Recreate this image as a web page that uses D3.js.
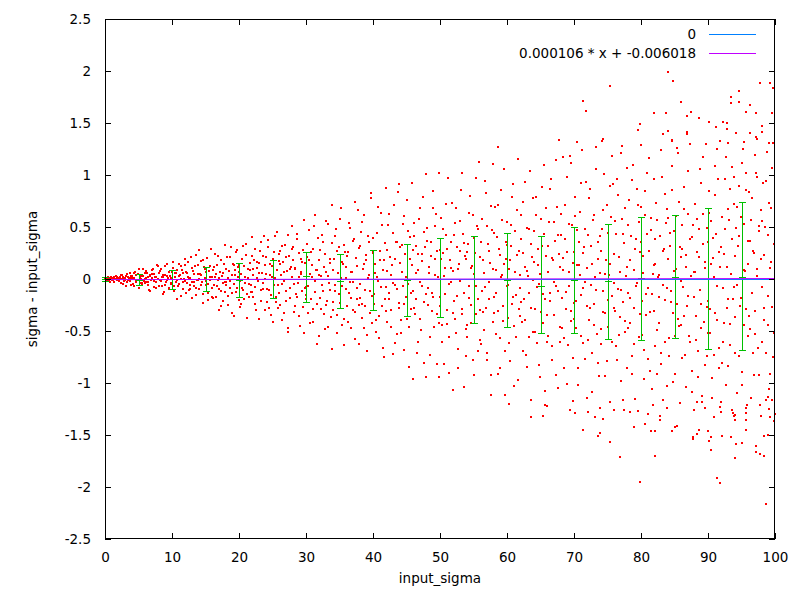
<!DOCTYPE html>
<html>
<head>
<meta charset="utf-8">
<script src="https://cdn.jsdelivr.net/npm/d3@7"></script>
<style>
body { margin: 0; background: #fff; }
text { font-family: "DejaVu Sans", sans-serif; font-size: 13.5px; fill: #000; }
</style>
</head>
<body>
<svg id="chart" width="800" height="600"></svg>
<script>
// axis ticks
const xTicks = [0, 10, 20, 30, 40, 50, 60, 70, 80, 90, 100];
const yTicks = [-2.5, -2, -1.5, -1, -0.5, 0, 0.5, 1, 1.5, 2, 2.5];

// binned mean +- sigma (green error bars)
const barX    = [0, 5, 10, 15, 20, 25, 30, 35, 40, 45, 50, 55, 60, 65, 70, 75, 80, 85, 90, 95];
const barMean = [0, -0.006, -0.004, -0.003, -0.012, -0.003, 0.026, -0.022, -0.003, -0.013, 0.003, -0.003, -0.013, -0.064, -0.01, -0.022, 0.006, 0.022, 0.003, 0.022];
const barHigh = [0.016, 0.045, 0.084, 0.112, 0.151, 0.18, 0.262, 0.237, 0.282, 0.333, 0.391, 0.41, 0.439, 0.41, 0.497, 0.526, 0.593, 0.612, 0.68, 0.737];
const barLow  = [-0.022, -0.058, -0.093, -0.118, -0.176, -0.186, -0.217, -0.282, -0.301, -0.359, -0.368, -0.426, -0.464, -0.522, -0.522, -0.58, -0.59, -0.564, -0.676, -0.686];

// legend lines
const legendNames = ["0", "0.000106 * x + -0.006018"];
const fitSlope = 0.000106;
const fitIntercept = -0.006018;

// scatter cloud (too dense to read point by point)
const cloudX = [
 0.1,0.2,0.3,0.5,0.6,0.7,0.9,1.0,1.2,1.3,1.5,1.6,1.8,1.9,
 2.1,2.2,2.4,2.5,2.6,2.8,2.9,3.1,3.2,3.4,3.5,3.7,3.8,3.9,
 4.0,4.2,4.3,4.4,4.6,4.7,4.9,5.0,5.2,5.3,5.5,5.6,5.8,5.9,
 6.0,6.1,6.3,6.4,6.5,6.7,6.8,7.0,7.1,7.3,7.4,7.6,7.7,7.9,
 8.0,8.2,8.3,8.5,8.6,8.7,8.9,9.0,9.2,9.3,9.5,9.6,9.8,9.9,
 10.0,10.1,10.3,10.4,10.6,10.7,10.8,11.0,11.1,11.3,11.4,11.6,11.7,11.9,
 12.0,12.2,12.3,12.5,12.6,12.7,12.9,13.0,13.2,13.3,13.5,13.6,13.8,13.9,
 14.0,14.1,14.3,14.4,14.6,14.7,14.9,15.0,15.1,15.3,15.4,15.6,15.7,15.9,
 16.0,16.2,16.3,16.5,16.6,16.8,16.9,17.0,17.2,17.3,17.5,17.6,17.8,17.9,
 18.0,18.1,18.3,18.4,18.6,18.7,18.9,19.0,19.2,19.3,19.4,19.6,19.7,19.9,
 20.0,20.2,20.3,20.5,20.6,20.7,20.9,21.0,21.2,21.3,21.5,21.6,21.8,21.9,
 22.0,22.1,22.3,22.4,22.6,22.7,22.9,23.0,23.1,23.3,23.4,23.6,23.7,23.9,
 24.1,24.2,24.4,24.5,24.7,24.8,24.9,25.1,25.2,25.4,25.5,25.6,25.8,25.9,
 26.0,26.1,26.3,26.4,26.6,26.7,26.8,27.0,27.1,27.3,27.4,27.6,27.7,27.9,
 28.0,28.2,28.3,28.4,28.6,28.7,28.9,29.0,29.2,29.3,29.4,29.6,29.7,29.9,
 30.0,30.1,30.3,30.4,30.6,30.7,30.9,31.0,31.1,31.3,31.4,31.6,31.7,31.9,
 32.0,32.2,32.3,32.5,32.6,32.8,32.9,33.0,33.2,33.3,33.5,33.6,33.8,33.9,
 34.0,34.1,34.3,34.4,34.6,34.7,34.9,35.0,35.2,35.3,35.4,35.6,35.7,35.9,
 36.0,36.2,36.3,36.5,36.6,36.7,36.9,37.0,37.2,37.3,37.5,37.6,37.7,37.9,
 38.0,38.1,38.3,38.4,38.6,38.7,38.8,39.0,39.1,39.3,39.4,39.6,39.7,39.9,
 40.0,40.2,40.3,40.5,40.6,40.8,40.9,41.0,41.2,41.3,41.5,41.6,41.8,41.9,
 42.0,42.1,42.3,42.4,42.6,42.7,42.9,43.0,43.1,43.3,43.4,43.6,43.7,43.9,
 44.0,44.2,44.3,44.5,44.6,44.7,44.9,45.0,45.2,45.3,45.5,45.6,45.8,45.9,
 46.0,46.1,46.3,46.4,46.6,46.7,46.9,47.0,47.2,47.3,47.4,47.6,47.7,47.9,
 48.0,48.2,48.3,48.5,48.6,48.8,48.9,49.0,49.2,49.3,49.5,49.6,49.8,49.9,
 50.0,50.1,50.3,50.4,50.6,50.7,50.9,51.0,51.1,51.3,51.4,51.6,51.7,51.9,
 52.0,52.2,52.3,52.5,52.6,52.7,52.9,53.0,53.2,53.3,53.5,53.6,53.8,53.9,
 54.0,54.1,54.3,54.4,54.6,54.7,54.9,55.0,55.1,55.3,55.4,55.6,55.7,55.9,
 56.0,56.2,56.3,56.5,56.6,56.8,56.9,57.0,57.2,57.3,57.5,57.6,57.8,57.9,
 58.0,58.1,58.3,58.4,58.6,58.7,58.9,59.0,59.1,59.3,59.4,59.6,59.7,59.9,
 60.0,60.2,60.3,60.5,60.6,60.7,60.9,61.0,61.2,61.3,61.5,61.6,61.8,61.9,
 62.0,62.1,62.3,62.4,62.6,62.7,62.9,63.0,63.1,63.3,63.4,63.6,63.7,63.9,
 64.0,64.2,64.3,64.5,64.6,64.8,64.9,65.0,65.2,65.3,65.5,65.6,65.8,65.9,
 66.0,66.1,66.3,66.4,66.6,66.7,66.9,67.0,67.1,67.3,67.4,67.6,67.7,67.9,
 68.0,68.2,68.3,68.5,68.6,68.8,68.9,69.0,69.2,69.3,69.5,69.6,69.8,69.9,
 70.0,70.1,70.3,70.4,70.6,70.7,70.9,71.0,71.1,71.3,71.4,71.6,71.7,71.9,
 72.0,72.2,72.3,72.5,72.6,72.7,72.9,73.0,73.2,73.3,73.5,73.6,73.8,73.9,
 74.0,74.1,74.3,74.4,74.6,74.7,74.9,75.0,75.1,75.3,75.4,75.6,75.7,75.9,
 76.0,76.2,76.3,76.5,76.6,76.8,76.9,77.0,77.2,77.3,77.5,77.6,77.8,77.9,
 78.0,78.1,78.3,78.4,78.6,78.7,78.9,79.0,79.1,79.3,79.4,79.6,79.7,79.9,
 80.0,80.2,80.3,80.5,80.6,80.7,80.9,81.0,81.2,81.3,81.5,81.6,81.8,81.9,
 82.0,82.1,82.3,82.4,82.6,82.7,82.9,83.0,83.1,83.3,83.4,83.6,83.7,83.9,
 84.0,84.2,84.3,84.5,84.6,84.8,84.9,85.0,85.2,85.3,85.5,85.6,85.8,85.9,
 86.0,86.1,86.3,86.4,86.6,86.7,86.9,87.0,87.1,87.3,87.4,87.6,87.7,87.9,
 88.0,88.2,88.3,88.5,88.6,88.8,88.9,89.0,89.2,89.3,89.5,89.6,89.8,89.9,
 90.0,90.1,90.3,90.4,90.6,90.7,90.9,91.0,91.1,91.3,91.4,91.6,91.7,91.9,
 92.0,92.2,92.3,92.5,92.6,92.8,92.9,93.0,93.2,93.3,93.5,93.6,93.8,93.9,
 94.0,94.1,94.3,94.4,94.6,94.7,94.9,95.0,95.1,95.3,95.4,95.6,95.7,95.9,
 96.0,96.2,96.3,96.5,96.6,96.8,96.9,97.0,97.2,97.3,97.5,97.6,97.8,97.9,
 98.0,98.1,98.3,98.4,98.6,98.7,98.9,99.0,99.1,99.3,99.4,99.6,99.7,99.9
];
const cloudY = [
 0.002,-0.007,0.013,-0.020,0.005,-0.001,0.024,-0.011,0.008,-0.029,0.003,-0.004,0.016,-0.014,
 -0.005,0.020,-0.034,0.001,0.042,-0.017,0.009,-0.066,0.028,-0.010,0.018,-0.024,0.056,0.005,
 0.019,-0.004,-0.067,0.054,-0.028,0.035,-0.011,0.092,-0.040,0.004,-0.047,0.025,-0.017,0.060,
 -0.043,0.011,0.061,-0.025,-0.101,0.035,-0.008,0.050,0.092,-0.073,0.019,-0.031,0.139,-0.001,
 -0.072,0.081,-0.021,0.017,-0.146,0.038,-0.056,0.122,-0.005,0.026,-0.098,0.066,-0.034,0.009,
 0.013,0.166,-0.072,0.054,-0.029,0.083,-0.197,0.026,-0.049,0.125,0.004,-0.100,0.060,-0.016,
 0.138,-0.040,0.057,-0.109,0.008,-0.092,0.213,-0.025,0.080,-0.064,0.124,-0.154,-0.009,0.044,
 -0.002,0.276,-0.062,0.037,-0.144,0.183,0.100,-0.015,0.069,-0.201,-0.049,0.121,0.023,-0.084,
 0.016,-0.060,0.118,-0.176,0.047,-0.009,0.217,-0.099,0.068,-0.261,0.031,-0.038,0.145,-0.129,
 -0.027,0.100,-0.167,0.006,0.210,-0.082,0.043,-0.329,0.139,-0.049,0.091,-0.121,0.279,0.022,
 0.068,-0.015,-0.241,0.194,-0.101,0.126,-0.039,0.334,-0.143,0.013,-0.171,0.090,-0.062,0.217,
 -0.126,0.034,0.182,-0.073,-0.301,0.103,-0.023,0.150,0.274,-0.215,0.055,-0.093,0.413,-0.004,
 0.05,-0.22,0.31,-0.11,0.14,-0.35,0.02,0.19,-0.06,0.41,-0.17,0.09,-0.28,0.24,
 -0.13,0.27,0.04,-0.39,0.16,-0.02,0.33,-0.21,0.08,-0.47,0.22,-0.09,0.12,0.51,
 0.31,-0.05,-0.26,0.11,0.43,-0.17,0.02,-0.36,0.19,0.07,-0.12,0.28,-0.52,0.15,
 -0.08,0.21,-0.33,0.47,0.05,-0.19,0.13,-0.41,0.29,-0.02,0.62,-0.24,0.09,-0.55,
 0.18,-0.29,0.03,0.36,-0.12,-0.48,0.24,0.07,-0.21,0.53,-0.04,0.15,-0.37,0.71,
 -0.22,0.09,0.41,-0.06,-0.35,0.27,-0.14,0.58,0.01,-0.44,0.16,-0.63,0.33,-0.1,
 0.12,-0.41,0.26,-0.03,0.49,-0.18,0.07,-0.3,0.38,-0.58,0.2,-0.09,0.66,-0.25,
 -0.05,0.32,-0.24,0.55,-0.47,0.14,-0.11,0.23,-0.69,0.41,0.04,-0.33,0.78,-0.16,
 0.27,-0.14,0.06,-0.39,0.44,-0.02,-0.57,0.18,0.63,-0.26,0.09,-0.75,0.35,-0.08,
 -0.31,0.08,0.52,-0.19,0.21,-0.46,0.13,-0.04,0.71,-0.62,0.36,-0.1,0.84,-0.28,
 0.15,-0.52,0.33,-0.07,0.61,-0.24,0.02,-0.38,0.46,-0.85,0.19,-0.13,0.92,0.28,
 -0.12,0.41,-0.34,0.06,-0.71,0.24,0.58,-0.03,-0.49,0.17,0.79,-0.22,0.31,-0.94,
 0.37,-0.09,0.12,-0.56,0.22,-0.31,0.68,-0.17,0.04,0.51,-0.82,0.27,-0.42,1.02,
 -0.26,0.19,-0.61,0.48,0.03,-0.14,0.72,-0.43,0.29,-0.05,-0.9,0.36,0.11,-0.33,
 0.08,-0.38,0.54,-0.16,0.31,-0.67,0.14,-0.02,0.86,-0.29,0.43,-1.04,0.22,-0.48,
 -0.44,0.26,-0.07,0.63,-0.25,0.11,-0.78,0.39,0.05,-0.34,0.97,-0.19,0.48,-0.59,
 0.21,-0.12,0.58,-0.49,0.06,-0.28,0.83,-0.71,0.34,-0.03,0.15,-0.92,0.47,1.11,
 -0.17,0.44,-0.53,0.09,0.71,-0.31,0.23,-0.86,0.02,0.57,-0.4,0.14,-1.12,0.36,
 0.33,-0.06,-0.62,0.18,0.52,-0.24,0.91,-0.45,0.07,-0.15,0.66,-0.97,0.27,-0.36,
 -0.09,0.38,-0.41,0.74,-0.19,0.12,-0.73,0.49,0.03,-0.56,1.04,-0.28,0.21,-0.01,
 0.16,-0.51,0.62,-0.08,0.29,-0.83,0.05,-0.32,0.88,-0.14,0.43,-1.08,0.22,-0.61,
 -0.35,0.07,0.55,-0.21,0.96,-0.64,0.18,-0.03,0.37,-0.92,0.69,-0.12,0.24,-0.46,
 0.42,-0.18,0.09,-0.57,0.71,-0.29,0.26,-1.01,0.53,-0.07,-0.4,1.12,-0.76,0.15,
 -0.23,0.61,-0.47,0.13,-0.86,0.36,0.04,-0.15,0.92,-0.62,0.25,-0.03,0.48,-1.14,
 0.11,-0.39,0.78,-0.06,0.32,-0.71,0.57,-0.24,0.02,1.06,-0.53,0.19,-0.93,0.41,
 -0.48,0.27,-0.12,0.66,-0.33,0.05,-0.79,0.44,-0.2,0.89,0.14,-0.61,1.18,-0.04,
 0.24,-0.64,0.43,-0.1,0.81,-0.37,0.07,-0.98,0.58,-0.22,0.35,-0.51,0.03,1.07,
 -0.13,0.52,-0.42,0.18,-0.74,0.95,-0.28,0.09,-1.15,0.38,-0.04,0.71,-0.56,0.26,
 0.36,-0.21,0.06,-0.68,0.62,-0.35,1.02,-0.09,0.27,-0.88,0.47,-0.14,-1.21,0.13,
 -0.31,0.14,0.73,-0.49,0.02,-0.17,0.41,-0.82,0.98,-0.06,0.29,-0.61,0.54,-1.03,
 0.19,-0.57,0.44,-0.12,0.86,-0.33,0.08,-0.91,0.61,-0.24,1.21,-0.45,0.31,-0.02,
 -0.44,0.29,-0.08,0.67,-0.73,0.12,-0.26,1.04,-0.55,0.38,0.03,-1.09,0.52,-0.17,
 0.07,-0.36,0.58,-0.69,0.21,-0.11,0.92,-0.47,0.34,1.17,-0.83,0.16,-0.27,0.49,
 -0.21,0.63,-0.52,0.14,-0.95,0.39,0.02,-0.33,0.81,-0.07,1.25,-0.66,0.26,-1.18,
 0.31,-0.09,-0.61,0.48,0.96,-0.28,0.12,-0.84,0.57,-0.43,0.05,1.08,-0.19,0.72,
 -0.37,0.22,-0.06,0.69,-0.74,0.41,-0.18,1.12,-1.02,0.09,0.53,-0.29,0.86,-0.55,
 0.14,-0.48,0.37,-0.13,0.78,-0.92,0.25,-0.31,1.02,0.03,-0.66,0.51,-1.21,0.19,
 -0.08,0.56,-0.39,0.23,-0.71,0.94,-0.16,0.42,-1.06,0.11,0.68,-0.27,1.31,-0.52
];

// second pass over the cloud, filling the wider part of the envelope
const cloud2X = [
 0.05,0.15,0.35,0.45,0.65,0.75,0.95,1.05,1.25,1.35,1.55,1.65,1.85,1.95,
 2.05,2.15,2.35,2.45,2.65,2.75,2.95,3.05,3.25,3.35,3.55,3.65,3.85,3.95,
 4.05,4.15,4.35,4.45,4.65,4.75,4.95,5.05,5.25,5.35,5.55,5.65,5.85,5.95,
 6.05,6.15,6.35,6.45,6.65,6.75,6.95,7.05,7.25,7.35,7.55,7.65,7.85,7.95,
 8.05,8.15,8.35,8.45,8.65,8.75,8.95,9.05,9.25,9.35,9.55,9.65,9.85,9.95,
 10.05,10.15,10.35,10.45,10.65,10.75,10.95,11.05,11.25,11.35,11.55,11.65,11.85,11.95,
 12.05,12.15,12.35,12.45,12.65,12.75,12.95,13.05,13.25,13.35,13.55,13.65,13.85,13.95,
 14.05,14.15,14.35,14.45,14.65,14.75,14.95,15.05,15.25,15.35,15.55,15.65,15.85,15.95,
 16.05,16.15,16.35,16.45,16.65,16.75,16.95,17.05,17.25,17.35,17.55,17.65,17.85,17.95,
 18.05,18.15,18.35,18.45,18.65,18.75,18.95,19.05,19.25,19.35,19.55,19.65,19.85,19.95,
 20.05,20.15,20.35,20.45,20.65,20.75,20.95,21.05,21.25,21.35,21.55,21.65,21.85,21.95,
 22.05,22.15,22.35,22.45,22.65,22.75,22.95,23.05,23.25,23.35,23.55,23.65,23.85,23.95,
 24.05,24.15,24.35,24.45,24.65,24.75,24.95,25.05,25.25,25.35,25.55,25.65,25.85,25.95,
 26.05,26.15,26.35,26.45,26.65,26.75,26.95,27.05,27.25,27.35,27.55,27.65,27.85,27.95,
 28.05,28.15,28.35,28.45,28.65,28.75,28.95,29.05,29.25,29.35,29.55,29.65,29.85,29.95,
 30.05,30.15,30.35,30.45,30.65,30.75,30.95,31.05,31.25,31.35,31.55,31.65,31.85,31.95,
 32.05,32.15,32.35,32.45,32.65,32.75,32.95,33.05,33.25,33.35,33.55,33.65,33.85,33.95,
 34.05,34.15,34.35,34.45,34.65,34.75,34.95,35.05,35.25,35.35,35.55,35.65,35.85,35.95,
 36.05,36.15,36.35,36.45,36.65,36.75,36.95,37.05,37.25,37.35,37.55,37.65,37.85,37.95,
 38.05,38.15,38.35,38.45,38.65,38.75,38.95,39.05,39.25,39.35,39.55,39.65,39.85,39.95,
 40.05,40.15,40.35,40.45,40.65,40.75,40.95,41.05,41.25,41.35,41.55,41.65,41.85,41.95,
 42.05,42.15,42.35,42.45,42.65,42.75,42.95,43.05,43.25,43.35,43.55,43.65,43.85,43.95,
 44.05,44.15,44.35,44.45,44.65,44.75,44.95,45.05,45.25,45.35,45.55,45.65,45.85,45.95,
 46.05,46.15,46.35,46.45,46.65,46.75,46.95,47.05,47.25,47.35,47.55,47.65,47.85,47.95,
 48.05,48.15,48.35,48.45,48.65,48.75,48.95,49.05,49.25,49.35,49.55,49.65,49.85,49.95,
 50.05,50.15,50.35,50.45,50.65,50.75,50.95,51.05,51.25,51.35,51.55,51.65,51.85,51.95,
 52.05,52.15,52.35,52.45,52.65,52.75,52.95,53.05,53.25,53.35,53.55,53.65,53.85,53.95,
 54.05,54.15,54.35,54.45,54.65,54.75,54.95,55.05,55.25,55.35,55.55,55.65,55.85,55.95,
 56.05,56.15,56.35,56.45,56.65,56.75,56.95,57.05,57.25,57.35,57.55,57.65,57.85,57.95,
 58.05,58.15,58.35,58.45,58.65,58.75,58.95,59.05,59.25,59.35,59.55,59.65,59.85,59.95,
 60.05,60.15,60.35,60.45,60.65,60.75,60.95,61.05,61.25,61.35,61.55,61.65,61.85,61.95,
 62.05,62.15,62.35,62.45,62.65,62.75,62.95,63.05,63.25,63.35,63.55,63.65,63.85,63.95,
 64.05,64.15,64.35,64.45,64.65,64.75,64.95,65.05,65.25,65.35,65.55,65.65,65.85,65.95,
 66.05,66.15,66.35,66.45,66.65,66.75,66.95,67.05,67.25,67.35,67.55,67.65,67.85,67.95,
 68.05,68.15,68.35,68.45,68.65,68.75,68.95,69.05,69.25,69.35,69.55,69.65,69.85,69.95,
 70.05,70.15,70.35,70.45,70.65,70.75,70.95,71.05,71.25,71.35,71.55,71.65,71.85,71.95,
 72.05,72.15,72.35,72.45,72.65,72.75,72.95,73.05,73.25,73.35,73.55,73.65,73.85,73.95,
 74.05,74.15,74.35,74.45,74.65,74.75,74.95,75.05,75.25,75.35,75.55,75.65,75.85,75.95,
 76.05,76.15,76.35,76.45,76.65,76.75,76.95,77.05,77.25,77.35,77.55,77.65,77.85,77.95,
 78.05,78.15,78.35,78.45,78.65,78.75,78.95,79.05,79.25,79.35,79.55,79.65,79.85,79.95,
 80.05,80.15,80.35,80.45,80.65,80.75,80.95,81.05,81.25,81.35,81.55,81.65,81.85,81.95,
 82.05,82.15,82.35,82.45,82.65,82.75,82.95,83.05,83.25,83.35,83.55,83.65,83.85,83.95,
 84.05,84.15,84.35,84.45,84.65,84.75,84.95,85.05,85.25,85.35,85.55,85.65,85.85,85.95,
 86.05,86.15,86.35,86.45,86.65,86.75,86.95,87.05,87.25,87.35,87.55,87.65,87.85,87.95,
 88.05,88.15,88.35,88.45,88.65,88.75,88.95,89.05,89.25,89.35,89.55,89.65,89.85,89.95,
 90.05,90.15,90.35,90.45,90.65,90.75,90.95,91.05,91.25,91.35,91.55,91.65,91.85,91.95,
 92.05,92.15,92.35,92.45,92.65,92.75,92.95,93.05,93.25,93.35,93.55,93.65,93.85,93.95,
 94.05,94.15,94.35,94.45,94.65,94.75,94.95,95.05,95.25,95.35,95.55,95.65,95.85,95.95,
 96.05,96.15,96.35,96.45,96.65,96.75,96.95,97.05,97.25,97.35,97.55,97.65,97.85,97.95,
 98.05,98.15,98.35,98.45,98.65,98.75,98.95,99.05,99.25,99.35,99.55,99.65,99.85,99.95
];
const cloud2Y = [
 0.009,-0.018,0.004,0.021,-0.006,-0.025,0.012,0.001,-0.013,0.017,-0.002,0.030,-0.009,0.007,
 -0.021,0.013,0.037,-0.003,-0.045,0.024,0.006,-0.014,0.051,-0.031,0.011,0.002,-0.058,0.027,
 0.033,-0.052,0.008,0.071,-0.019,-0.006,0.044,-0.083,0.015,0.026,-0.036,0.097,-0.011,0.002,
 -0.028,0.074,-0.057,0.016,0.033,-0.114,0.005,0.088,-0.019,0.047,-0.082,0.024,-0.003,0.121,
 0.054,-0.013,0.097,-0.068,0.022,-0.121,0.041,-0.027,0.149,0.006,-0.085,0.031,-0.044,0.072,
 -0.041,0.107,-0.118,0.019,0.062,-0.009,-0.071,0.142,0.035,-0.165,0.087,-0.026,0.004,0.191,
 0.071,-0.132,0.023,0.166,-0.058,0.009,-0.187,0.104,-0.031,0.047,0.228,-0.086,0.139,-0.014,
 -0.093,0.052,0.171,-0.027,-0.228,0.118,0.011,-0.061,0.206,-0.139,0.074,-0.008,0.289,-0.176,
 0.087,-0.181,0.024,0.241,-0.066,0.133,-0.296,0.009,0.178,-0.112,0.053,-0.215,0.326,-0.031,
 -0.062,0.213,-0.254,0.078,-0.017,0.305,-0.131,0.146,-0.359,0.034,0.262,-0.088,0.117,-0.198,
 0.136,-0.268,0.051,-0.085,0.319,-0.193,0.017,0.227,-0.372,0.094,-0.046,0.158,-0.125,0.402,
 -0.176,0.093,0.287,-0.241,0.012,0.163,-0.382,0.058,-0.107,0.356,-0.034,0.221,-0.295,0.131,
 0.214,-0.093,0.372,-0.281,0.036,-0.158,0.127,-0.416,0.262,0.008,-0.224,0.455,-0.061,0.173,
 -0.252,0.146,-0.044,0.318,-0.331,0.067,0.211,-0.119,0.427,-0.512,0.093,-0.187,0.289,0.021,
 0.178,-0.321,0.092,-0.143,0.387,-0.036,0.254,-0.452,0.047,0.163,-0.268,0.565,-0.082,-0.197,
 -0.152,0.338,-0.071,0.186,-0.427,0.264,0.019,-0.288,0.512,-0.124,0.091,-0.622,0.397,0.043,
 0.281,-0.186,0.427,-0.062,-0.341,0.117,0.562,-0.254,0.033,-0.459,0.196,-0.103,0.347,-0.671,
 -0.301,0.197,-0.112,0.483,-0.517,0.054,0.312,-0.226,0.681,-0.068,0.143,-0.389,0.259,0.012,
 0.218,-0.259,0.537,-0.134,0.071,-0.472,0.364,-0.028,-0.318,0.741,-0.197,0.126,-0.623,0.297,
 -0.183,0.448,-0.371,0.096,0.612,-0.264,0.187,-0.542,0.013,0.354,-0.118,0.827,-0.419,0.253,
 0.391,-0.236,0.144,-0.512,0.023,0.688,-0.357,0.272,-0.081,0.517,-0.664,0.178,-0.193,0.872,
 -0.412,0.283,-0.138,0.624,-0.297,0.041,0.447,-0.719,0.196,-0.054,0.352,-0.531,0.913,-0.226,
 0.312,-0.397,0.067,0.528,-0.681,0.241,-0.172,0.764,-0.044,-0.462,0.403,-0.289,0.137,-0.958,
 -0.278,0.537,-0.192,0.318,-0.601,0.083,0.682,-0.387,0.241,-0.063,-0.812,0.449,-0.147,1.012,
 0.488,-0.251,0.061,-0.729,0.356,-0.134,0.844,-0.462,0.197,0.623,-0.338,0.017,-0.942,0.281,
 -0.173,0.591,-0.447,0.254,-0.815,0.108,0.426,-0.302,0.967,-0.559,0.183,-0.032,0.727,-1.063,
 0.422,-0.214,0.687,-0.523,0.093,-0.851,0.274,0.562,-0.338,1.018,-0.132,0.346,-0.741,0.193,
 -0.561,0.341,-0.184,0.802,-0.427,0.128,0.614,-0.923,0.246,-0.068,0.512,-0.693,1.127,-0.302,
 0.356,-0.623,0.183,-0.317,0.947,-0.081,0.512,-0.782,0.274,-0.196,0.703,-1.114,0.098,-0.418,
 -0.327,0.691,-0.134,0.403,-0.917,0.286,-0.563,0.857,0.042,-0.259,1.061,-0.688,0.197,-0.072,
 0.547,-0.372,0.092,-0.784,0.318,0.793,-0.173,-1.032,0.461,-0.561,0.234,1.152,-0.286,0.039,
 -0.218,0.612,-0.694,0.251,-0.392,0.937,0.073,-0.847,0.476,-0.134,0.332,-1.163,0.783,-0.512,
 0.461,-0.287,0.793,-0.618,0.133,-0.052,-0.942,0.581,0.317,-0.426,1.094,-0.197,0.682,-1.223,
 -0.546,0.318,-0.137,0.867,-0.781,0.206,0.552,-0.342,1.143,-0.071,0.423,-1.052,0.117,-0.603,
 0.629,-0.471,0.203,-0.856,0.387,-0.124,0.983,-0.637,0.071,1.187,-0.312,0.521,-1.172,0.264,
 -0.382,0.793,-0.216,0.467,-1.023,0.139,0.648,-0.548,1.236,-0.087,0.304,-0.773,0.932,-0.262,
 0.427,-0.591,0.864,-0.283,0.142,-1.082,0.616,-0.441,1.271,-0.107,0.352,-0.806,0.059,-1.237,
 -0.626,0.482,-0.318,1.014,-0.931,0.187,0.713,-0.457,0.041,-1.187,0.598,-0.163,0.916,-0.283,
 0.553,-0.312,0.961,-0.782,0.216,-0.537,1.213,-0.104,0.437,-1.164,0.682,-0.401,0.118,-0.853,
 -0.472,0.763,-0.178,0.417,-0.912,1.097,-0.623,0.293,-0.064,0.866,-1.273,0.548,-0.336,1.284,
 0.694,-0.536,0.217,-0.961,0.847,-0.143,0.437,-0.767,1.164,-0.318,0.589,-1.057,0.052,0.957,
 -0.647,0.382,-0.912,0.563,0.041,-0.421,1.236,-0.708,0.274,-1.163,0.816,-0.203,0.674,-0.087,
 0.582,-0.742,0.317,-0.218,1.083,-0.987,0.461,-0.546,0.094,1.264,-0.382,0.736,-1.194,0.212,
 -0.763,0.517,-0.352,0.889,-1.037,0.229,0.621,-0.168,1.296,-0.602,0.408,-0.889,0.071,-1.262,
 0.719,-0.591,0.263,-0.947,0.482,1.053,-0.238,-1.121,0.627,-0.414,0.108,1.298,-0.742,0.357,
 -0.516,0.843,-0.287,0.562,-1.147,0.198,-0.728,1.084,0.431,-0.391,0.957,-0.852,0.117,-1.283,
 0.594,-0.812,0.237,-0.426,1.172,-1.018,0.673,-0.197,0.868,-0.631,0.384,-1.262,0.984,-0.074,
 -0.712,0.487,-1.096,0.318,0.891,-0.263,0.592,-0.894,1.247,-0.441,0.073,1.016,-1.207,0.364,
 0.836,-0.357,0.568,-1.147,0.273,-0.712,1.194,-0.527,0.098,0.983,-0.923,0.462,-1.318,0.667,
 -0.604,0.923,-0.282,0.497,-1.162,1.217,-0.438,0.731,-0.918,0.164,1.063,-0.747,0.332,-1.296
];

// outlying dots
const outlierX = [84.1,84.8,75.4,71.4,71.8,99.2,99.7,94.7,93.5,93.5,94.7,85.9,81.9,83.7,87.4,86.8,88.6,95.7,96.3,97.1,99.6,97.8,79.8,79.5,67.8,70.5,74.4,74.2,58.7,90.2,92.3,92.9,91.2,92.9,84.1,83.3,86.8,86.8,96.3,97.1,97.3,98.1,94.2,98.1,99.1,95.3,91.8,93.0,84.7,84.7,77.1,68.4,
  79.8,91.4,91.8,98.6,76.8,82.1,94.1,75.4,90.5,97.1,97.2,97.8,98.4,94.2,90.2,73.6,73.9,71.4,78.9,81.5,82.1,84.7,85.4,87.7,87.8,88.3,88.6,92.1,93.5,95.1,95.6,98.3,98.9,63.6,65.3,60.3,65.7,69.4,70.2,72.1,73.2,74.4,76.0,77.5,78.4,80.6,81.1,82.9,82.8,83.9,85.1,88.4,89.1,90.0,90.4,89.6,91.8,90.9,93.6,93.7,93.9,94.1,94.1,95.6,95.6,95.6,99.3,99.1,99.6,99.9,99.0];
const outlierY = [1.99,1.90,1.86,1.71,1.62,1.88,1.84,1.81,1.75,1.69,1.70,1.70,1.60,1.60,1.61,1.57,1.55,1.61,1.67,1.60,1.60,1.88,1.49,1.43,1.34,1.32,1.35,1.33,1.27,1.51,1.51,1.50,1.46,1.44,1.42,1.39,1.41,1.39,1.40,1.37,1.35,1.41,1.40,1.47,1.31,1.32,1.33,1.31,1.34,1.33,1.28,1.17,
  -1.95,-1.91,-1.96,-2.16,-1.71,-1.70,-1.72,-1.57,-1.64,-1.61,-1.66,-1.68,-1.70,-1.59,-1.56,-1.51,-1.48,-1.45,-1.42,-1.46,-1.46,-1.46,-1.41,-1.52,-1.54,-1.49,-1.45,-1.51,-1.52,-1.58,-1.45,-1.51,-1.50,-1.33,-1.32,-1.20,-1.21,-1.26,-1.29,-1.28,-1.33,-1.35,-1.26,-1.26,-1.28,-1.39,-1.30,-1.36,-1.32,-1.24,-1.42,-1.18,-1.18,-1.46,-1.52,-1.24,-1.23,-1.33,-1.26,-1.29,-1.32,-1.36,-1.31,-1.24,-1.36,-1.29,-1.33,-1.25,-1.16,-1.37,-1.13];

const svg = d3.select("#chart");
const x = d3.scaleLinear().domain([0, 100]).range([105, 775]);
const y = d3.scaleLinear().domain([-2.5, 2.5]).range([539, 19]);

svg.append("rect").attr("width", 800).attr("height", 600).attr("fill", "#fff");

// dots
let dots = cloudX.map((d, i) => [d, cloudY[i]])
    .concat(cloud2X.map((d, i) => [d, cloud2Y[i]]))
    .concat(outlierX.map((d, i) => [d, outlierY[i]]));
svg.append("g")
    .selectAll("rect")
    .data(dots)
    .enter().append("rect")
    .attr("x", d => Math.round(x(d[0])) - 1)
    .attr("y", d => Math.round(y(d[1])) - 1)
    .attr("width", 2)
    .attr("height", 2)
    .attr("fill", "#ff0000")
    .attr("shape-rendering", "crispEdges");

// error bars
let bars = barX.map((d, i) => ({x: d, mean: barMean[i], lo: barLow[i], hi: barHigh[i]}));
let barG = svg.append("g")
    .attr("stroke", "#00c000")
    .attr("stroke-width", 1)
    .attr("shape-rendering", "crispEdges");
bars.forEach(b => {
    let bx = Math.round(x(b.x)) + 0.5;
    barG.append("line").attr("x1", bx).attr("x2", bx).attr("y1", y(b.hi)).attr("y2", y(b.lo));
    [b.hi, b.lo, b.mean].forEach(v => {
        let by = Math.round(y(v)) + 0.5;
        barG.append("line").attr("x1", bx - 3.5).attr("x2", bx + 3.5).attr("y1", by).attr("y2", by);
    });
});

// zero line and fit line
svg.append("line")
    .attr("x1", x(0)).attr("x2", x(100))
    .attr("y1", Math.round(y(0)) + 0.5).attr("y2", Math.round(y(0)) + 0.5)
    .attr("stroke", "#0080ff");
svg.append("line")
    .attr("x1", x(0)).attr("x2", x(100))
    .attr("y1", y(fitIntercept)).attr("y2", y(fitSlope * 100 + fitIntercept))
    .attr("stroke", "#c000ff");

// axes with inward ticks on all sides
function styleAxis(g) {
    g.select(".domain").remove();
    g.selectAll(".tick line").attr("stroke", "#000").attr("shape-rendering", "crispEdges");
    g.selectAll(".tick text").attr("fill", "#000").attr("font-size", 13.5)
        .attr("font-family", "DejaVu Sans, sans-serif");
}
svg.append("g").attr("transform", "translate(0,539)")
    .call(d3.axisBottom(x).tickValues(xTicks).tickSizeInner(-6).tickSizeOuter(0).tickPadding(13).tickFormat(d => String(d)))
    .call(styleAxis);
svg.append("g").attr("transform", "translate(0,19)")
    .call(d3.axisTop(x).tickValues(xTicks).tickSizeInner(-6).tickSizeOuter(0).tickFormat(""))
    .call(styleAxis);
svg.append("g").attr("transform", "translate(105,0)")
    .call(d3.axisLeft(y).tickValues(yTicks).tickSizeInner(-6).tickSizeOuter(0).tickPadding(14).tickFormat(d => String(d)))
    .call(styleAxis);
svg.append("g").attr("transform", "translate(775,0)")
    .call(d3.axisRight(y).tickValues(yTicks).tickSizeInner(-6).tickSizeOuter(0).tickFormat(""))
    .call(styleAxis);

svg.append("rect")
    .attr("x", 105.5).attr("y", 19.5).attr("width", 669).attr("height", 519)
    .attr("fill", "none").attr("stroke", "#000").attr("shape-rendering", "crispEdges");

// legend
let legendColors = ["#0080ff", "#c000ff"];
legendNames.forEach((name, i) => {
    let ly = 34 + i * 19;
    svg.append("text").attr("x", 696).attr("y", ly + 5).attr("text-anchor", "end").text(name);
    svg.append("line").attr("x1", 709).attr("x2", 756)
        .attr("y1", ly + 0.5).attr("y2", ly + 0.5)
        .attr("stroke", legendColors[i]).attr("shape-rendering", "crispEdges");
});

// axis titles
svg.append("text").attr("x", 440).attr("y", 583).attr("text-anchor", "middle").text("input_sigma");
svg.append("text").attr("transform", "translate(37,279) rotate(-90)")
    .attr("text-anchor", "middle").text("sigma - input_sigma");
</script>
</body>
</html>
